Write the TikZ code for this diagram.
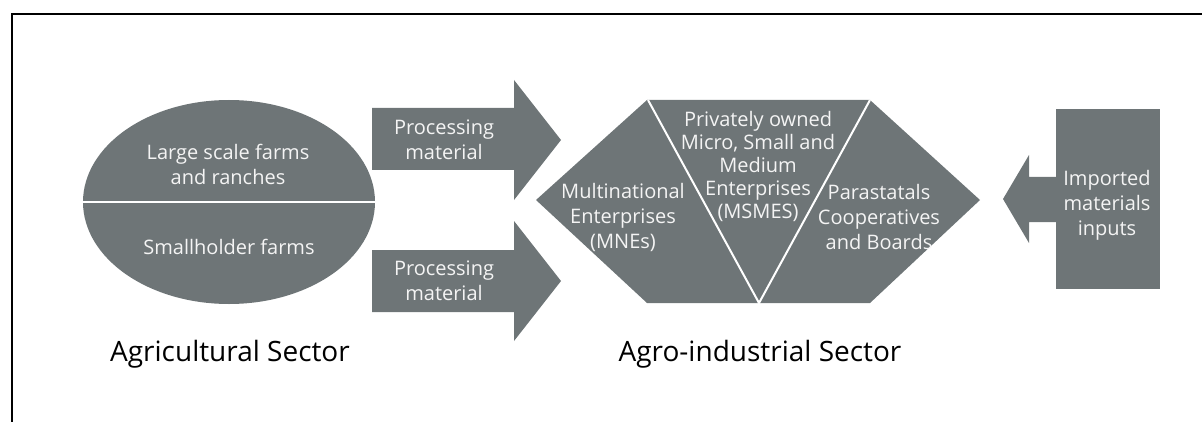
\documentclass[tikz,border=0pt]{standalone}
\usepackage{fontspec}
\setmainfont{Open Sans}
\usetikzlibrary{positioning, shapes.geometric}
\definecolor{SectorGrey}{HTML}{6E7577}
\definecolor{LabelWhite}{HTML}{F4F4F4}

\tikzset{
	block/.style={fill=SectorGrey, draw=none},
	inlabel/.style={text=LabelWhite, align=center, font=\fontsize{10}{12.5}\selectfont, inner sep=0pt},
	sectorlabel/.style={text=black, font=\fontsize{14}{17}\selectfont, inner sep=0pt, anchor=base},
	split/.style={draw=white, line width=1pt},
}

\begin{document}
\begin{tikzpicture}[x=0.5pt, y=-0.5pt]
	\useasboundingbox (0,0) rectangle (1202,422);
	\draw[line width=1pt] (12,422) -- (12,14) -- (1202,14);
	
	% farms
	\node[block, ellipse, inner sep=0pt, minimum width=146pt, minimum height=102pt] (farms) at (229,202) {};
	\draw[split] (farms.west) -- (farms.east);
	\node[inlabel] (large) at (228,164) {Large scale farms\\and ranches};
	\node[inlabel] (small) at (229,247) {Smallholder farms};
	\node[sectorlabel] (agri) at (230,361) {Agricultural Sector};
	
	% processing arrows
	\fill[block] (372,108) -- (514,108) -- (514,80) -- (561,140) -- (514,200) -- (514,170) -- (372,170) -- cycle;
	\node[inlabel] (procup) at (444,140) {Processing\\material};
	\fill[block] (372,250) -- (514,250) -- (514,221) -- (561,281) -- (514,341) -- (514,312) -- (372,312) -- cycle;
	\node[inlabel] (proclow) at (444,281) {Processing\\material};
	
	% agro-industry
	\fill[block] (536,200) -- (647,100) -- (870,100) -- (980,200) -- (870,303) -- (647,303) -- cycle;
	\draw[split] (648,100) -- (759,303) -- (870,100);
	\node[inlabel] (mne) at (623,217) {Multinational\\Enterprises\\(MNEs)};
	\node[inlabel, font=\fontsize{10}{11.5}\selectfont] (msme) at (758,166) {Privately owned\\Micro, Small and\\Medium\\Enterprises\\(MSMES)};
	\node[inlabel] (para) at (879,217) {Parastatals\\Cooperatives\\and Boards};
	\node[sectorlabel] (agro) at (760,361) {Agro-industrial Sector};
	
	% imports
	\fill[block] (1056,109) rectangle (1160,289);
	\fill[block] (1003,199) -- (1029,155) -- (1029,177) -- (1057,177) -- (1057,222) -- (1029,222) -- (1029,243) -- cycle;
	\node[inlabel] (imp) at (1107,205) {Imported\\materials\\inputs};
\end{tikzpicture}
\end{document}
